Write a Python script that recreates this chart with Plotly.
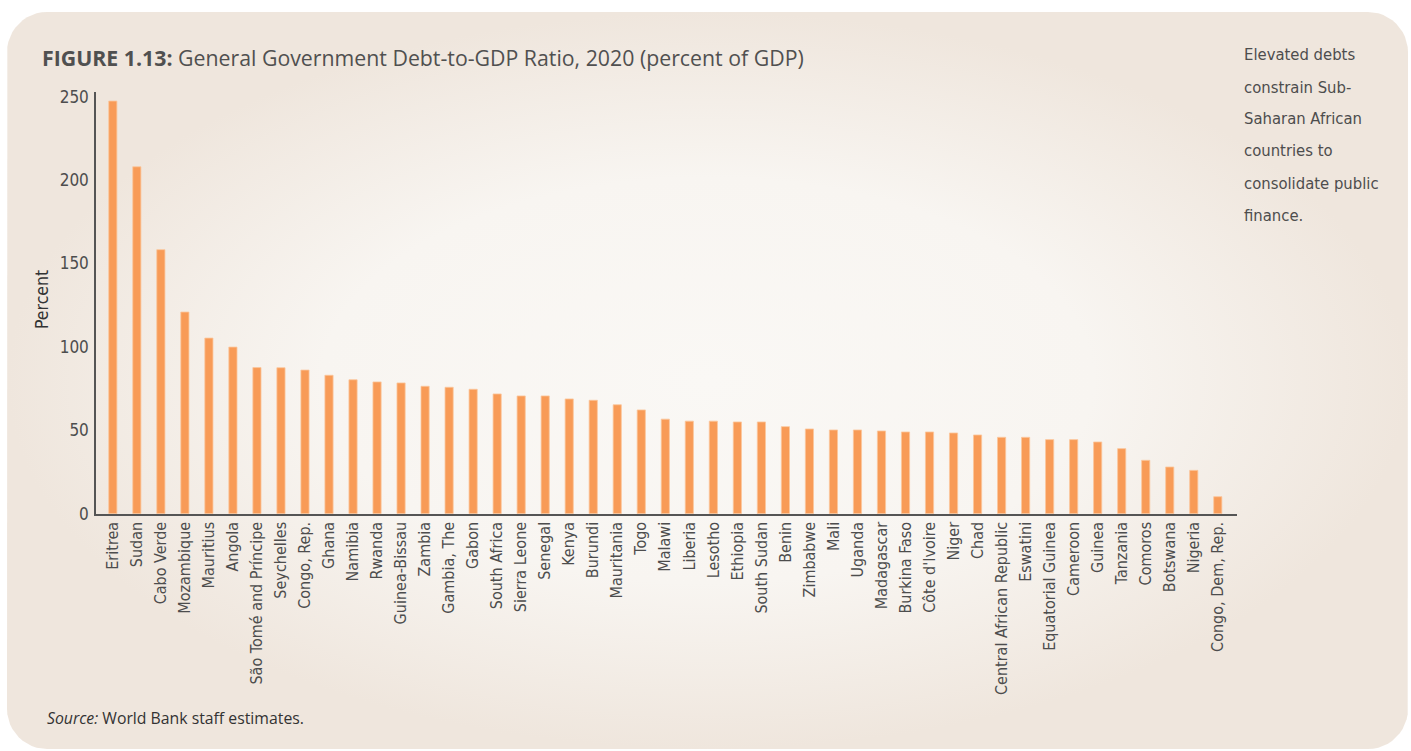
import math
import plotly.graph_objects as go

countries = [
    "Eritrea", "Sudan", "Cabo Verde", "Mozambique", "Mauritius", "Angola",
    "São Tomé and Príncipe", "Seychelles", "Congo, Rep.", "Ghana", "Namibia",
    "Rwanda", "Guinea-Bissau", "Zambia", "Gambia, The", "Gabon", "South Africa",
    "Sierra Leone", "Senegal", "Kenya", "Burundi", "Mauritania", "Togo",
    "Malawi", "Liberia", "Lesotho", "Ethiopia", "South Sudan", "Benin",
    "Zimbabwe", "Mali", "Uganda", "Madagascar", "Burkina Faso", "Côte d'Ivoire",
    "Niger", "Chad", "Central African Republic", "Eswatini", "Equatorial Guinea",
    "Cameroon", "Guinea", "Tanzania", "Comoros", "Botswana", "Nigeria",
    "Congo, Dem, Rep.",
]
debt_pct = [
    247.4, 208.0, 158.3, 120.9, 105.3, 99.9,
    87.6, 87.5, 86.1, 83.0, 80.3,
    79.0, 78.4, 76.4, 75.8, 74.6, 71.8,
    70.6, 70.6, 68.8, 68.0, 65.3, 62.2,
    56.7, 55.5, 55.5, 55.0, 55.0, 52.2,
    50.8, 50.2, 50.2, 49.6, 49.0, 49.0,
    48.4, 47.2, 45.8, 45.8, 44.4,
    44.4, 43.0, 39.0, 32.0, 28.0, 26.0,
    10.2,
]
y_ticks = [0, 50, 100, 150, 200, 250]
side_note = ["Elevated debts", "constrain Sub-", "Saharan African",
             "countries to", "consolidate public", "finance."]

W, H = 1411, 751
COND = "Liberation Sans Narrow, DejaVu Sans Condensed, Arial Narrow, sans-serif"
TITLE_FONT = "Open Sans, Lato, sans-serif"
TXT = "#4d4d4d"

fig = go.Figure()

# background rounded panel (pixel coordinates on a full-page helper axis)
x0, x1, y0, y1, r = 7, 1408, 12, 749, 40
px, py = [], []
corners = [(x1 - r, y0 + r, -90, 0), (x1 - r, y1 - r, 0, 90),
           (x0 + r, y1 - r, 90, 180), (x0 + r, y0 + r, 180, 270)]
for cx, cy, a0, a1 in corners:
    for k in range(13):
        a = math.radians(a0 + (a1 - a0) * k / 12)
        px.append(cx + r * math.cos(a))
        py.append(cy + r * math.sin(a))
px.append(px[0]); py.append(py[0])
fig.add_trace(go.Scatter(
    x=px, y=py, mode="lines", fill="toself", line=dict(width=0),
    fillgradient=dict(type="radial",
                      colorscale=[[0, "#faf8f5"], [0.55, "#f8f5f1"], [1, "#efe6dd"]]),
    hoverinfo="skip", showlegend=False, cliponaxis=False,
    xaxis="x", yaxis="y"))

fig.add_trace(go.Bar(
    x=countries, y=debt_pct, xaxis="x2", yaxis="y2",
    marker=dict(color="#f89b57", line=dict(color="#fbc69c", width=0.8)),
    showlegend=False))

fig.update_layout(
    width=W, height=H, margin=dict(l=0, r=0, t=0, b=0, pad=0, autoexpand=False),
    paper_bgcolor="white", plot_bgcolor="rgba(0,0,0,0)",
    bargap=0.66,
    xaxis=dict(domain=[0, 1], range=[0, W], visible=False, fixedrange=True),
    yaxis=dict(domain=[0, 1], range=[H, 0], visible=False, fixedrange=True),
    xaxis2=dict(domain=[96 / W, 1237 / W], anchor="y2", range=[-0.7, 46.8],
                showline=True, linecolor="#555555", linewidth=1.5, ticks="",
                showgrid=False, zeroline=False, tickangle=-90,
                tickfont=dict(family=COND, size=16, color=TXT)),
    yaxis2=dict(domain=[(H - 513.7) / H, (H - 91.7) / H], anchor="x2",
                range=[0, 253], tickvals=y_ticks, showline=True,
                linecolor="#555555", linewidth=1.5, ticks="", showgrid=False,
                zeroline=False, ticklabelstandoff=2,
                tickfont=dict(family=COND, size=17, color=TXT)),
)

ann = []
ann.append(dict(x=40 / W, y=1 - 57 / H, xref="paper", yref="paper",
                xanchor="left", yanchor="middle", showarrow=False,
                text="<b>FIGURE 1.13:</b> General Government Debt-to-GDP Ratio, 2020 (percent of GDP)",
                font=dict(family=TITLE_FONT, size=21.3, color="#505050")))
for i, line in enumerate(side_note):
    ann.append(dict(x=1242 / W, y=1 - (55 + 32 * i) / H, xref="paper", yref="paper",
                    xanchor="left", yanchor="middle", showarrow=False, text=line,
                    font=dict(family=COND, size=16.5, color=TXT)))
ann.append(dict(x=42 / W, y=1 - 300 / H, xref="paper", yref="paper",
                xanchor="center", yanchor="middle", showarrow=False, textangle=-90,
                text="Percent", font=dict(family=COND, size=17.5, color="#333333")))
ann.append(dict(x=45 / W, y=1 - 718 / H, xref="paper", yref="paper",
                xanchor="left", yanchor="middle", showarrow=False,
                text="<i>Source:</i> World Bank staff estimates.",
                font=dict(family=TITLE_FONT, size=15.8, color="#333333")))
fig.update_layout(annotations=ann)

fig.write_html(
    "out.html",
    config={"displayModeBar": False},
    post_script=(
        "document.body.style.margin='0';"
        "var gd=document.getElementById('{plot_id}');"
        "gd.style.position='absolute';gd.style.left='0px';gd.style.top='0px';"
    ),
)

# make the page exactly the figure size (no body margins / scrolling)
with open("out.html", "r", encoding="utf-8") as f:
    html = f.read()
html = html.replace(
    "<head>",
    "<head><style>html,body{margin:0;padding:0;overflow:hidden;"
    "width:1411px;height:751px;}</style>", 1)
with open("out.html", "w", encoding="utf-8") as f:
    f.write(html)
